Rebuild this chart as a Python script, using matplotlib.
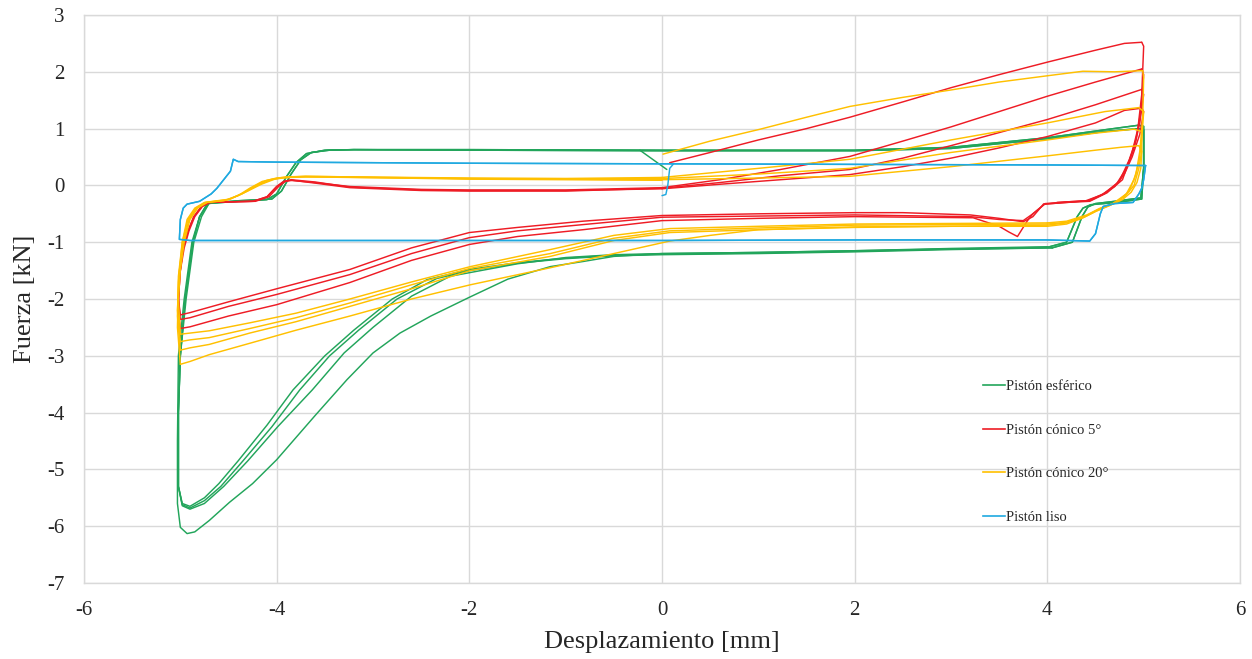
import matplotlib
matplotlib.use("Agg")
import matplotlib.pyplot as plt
from matplotlib.lines import Line2D

plt.rcParams['font.family'] = ['Liberation Serif', 'DejaVu Serif']

# ---------------- data ----------------
x_ticks = [-6, -4, -2, 0, 2, 4, 6]
y_ticks = [-7, -6, -5, -4, -3, -2, -1, 0, 1, 2, 3]
labels = ['Pistón esférico', 'Pistón cónico 5°', 'Pistón cónico 20°', 'Pistón liso']
colors = ['#22A55B', '#EE1C25', '#FFC000', '#1FA9E0']

# --- Pistón esférico (green) ---
esf_inicio = [(0.05, 0.28), (-0.23, 0.62)]
esf_superior_a = [(-4.72, -0.32), (-4.4, -0.28), (-4.1, -0.25), (-4.0, -0.15), (-3.9, 0.15),
                  (-3.8, 0.4), (-3.69, 0.56), (-3.5, 0.62), (-3.2, 0.63), (-2.0, 0.63),
                  (0.0, 0.62), (2.0, 0.62), (3.0, 0.67), (4.0, 0.84), (4.6, 0.98), (4.95, 1.06),
                  (5.0, 1.04), (5.0, 0.3), (4.98, -0.24), (4.72, -0.3), (4.45, -0.34),
                  (4.37, -0.4), (4.31, -0.55), (4.2, -1.0), (4.0, -1.09)]
esf_superior_b = [(-4.7, -0.31), (-4.4, -0.27), (-4.05, -0.24), (-3.95, -0.1), (-3.85, 0.2),
                  (-3.75, 0.45), (-3.64, 0.58), (-3.45, 0.62), (-3.2, 0.63), (-2.0, 0.62),
                  (0.0, 0.61), (2.0, 0.61), (3.0, 0.65), (4.0, 0.82), (4.6, 0.95), (4.95, 1.0),
                  (5.0, 0.98), (5.0, 0.3), (4.97, -0.22), (4.7, -0.28), (4.5, -0.32),
                  (4.42, -0.38), (4.36, -0.55), (4.26, -1.0), (4.05, -1.1)]
esf_inferior_a = [(4.0, -1.09), (3.0, -1.12), (2.0, -1.16), (1.0, -1.19), (0.0, -1.21),
                  (-0.5, -1.23), (-1.0, -1.28), (-1.5, -1.36), (-2.0, -1.48), (-2.44, -1.66),
                  (-2.8, -2.0), (-3.2, -2.55), (-3.5, -3.0), (-3.83, -3.6), (-4.1, -4.22),
                  (-4.4, -4.85), (-4.6, -5.25), (-4.75, -5.5), (-4.9, -5.65), (-4.98, -5.6),
                  (-5.02, -5.3), (-5.02, -4.0), (-5.0, -3.0), (-4.95, -2.0), (-4.87, -1.0),
                  (-4.8, -0.55), (-4.72, -0.32)]
esf_inferior_b = [(4.05, -1.1), (3.0, -1.13), (2.0, -1.17), (1.0, -1.2), (0.0, -1.22),
                  (-0.5, -1.24), (-1.0, -1.29), (-1.5, -1.37), (-2.0, -1.5), (-2.34, -1.64),
                  (-2.75, -2.0), (-3.15, -2.55), (-3.45, -3.0), (-3.76, -3.6), (-4.05, -4.25),
                  (-4.35, -4.85), (-4.58, -5.3), (-4.75, -5.55), (-4.9, -5.68), (-4.98, -5.62),
                  (-5.02, -5.3), (-5.02, -4.0), (-5.0, -3.0), (-4.94, -2.0), (-4.86, -1.0),
                  (-4.78, -0.55), (-4.7, -0.31)]
esf_inferior_c = [(4.0, -1.08), (3.0, -1.11), (2.0, -1.15), (1.0, -1.18), (0.0, -1.2),
                  (-0.5, -1.22), (-1.0, -1.27), (-1.5, -1.38), (-2.2, -1.6), (-2.6, -1.95),
                  (-3.0, -2.5), (-3.3, -2.95), (-3.63, -3.6), (-3.99, -4.25), (-4.3, -4.85),
                  (-4.55, -5.3), (-4.75, -5.6), (-4.9, -5.7), (-4.98, -5.64), (-5.02, -5.3),
                  (-5.02, -4.0), (-5.0, -3.0), (-4.95, -2.0), (-4.87, -1.0), (-4.8, -0.55),
                  (-4.72, -0.32)]
esf_inferior_d = [(4.05, -1.1), (3.0, -1.12), (2.0, -1.15), (1.0, -1.18), (0.0, -1.2),
                  (-0.5, -1.25), (-0.82, -1.34), (-1.16, -1.43), (-1.6, -1.65), (-2.0, -1.97),
                  (-2.4, -2.3), (-2.72, -2.6), (-3.0, -2.95), (-3.27, -3.42), (-3.6, -4.05),
                  (-4.0, -4.83), (-4.25, -5.25), (-4.49, -5.58), (-4.7, -5.9), (-4.85, -6.1),
                  (-4.93, -6.13), (-5.0, -6.02), (-5.03, -5.6), (-5.03, -4.5), (-5.02, -3.0),
                  (-4.96, -2.0), (-4.88, -1.0), (-4.8, -0.55), (-4.7, -0.31)]
esferico = [esf_inicio, esf_superior_a, esf_superior_b, esf_superior_a, esf_superior_b,
            esf_inferior_a, esf_inferior_b, esf_inferior_c, esf_inferior_d]

# --- Pistón cónico 5° (red) ---
c5_subida_1 = [(0.08, 0.4), (0.5, 0.58), (1.0, 0.8), (1.5, 1.0), (1.95, 1.2), (2.5, 1.47),
               (3.0, 1.72), (3.5, 1.95), (4.0, 2.17), (4.5, 2.38), (4.8, 2.5), (4.98, 2.52)]
c5_subida_2 = [(0.0, -0.04), (0.6, 0.1), (1.23, 0.28), (1.95, 0.51), (2.5, 0.78), (3.0, 1.03),
               (3.5, 1.3), (4.0, 1.57), (4.5, 1.82), (4.98, 2.05)]
c5_subida_3 = [(0.0, -0.05), (0.6, 0.05), (1.23, 0.17), (1.95, 0.28), (2.5, 0.48), (3.0, 0.7),
               (3.5, 0.93), (4.0, 1.16), (4.5, 1.42), (4.98, 1.69)]
c5_subida_4 = [(0.0, -0.06), (0.6, 0.02), (1.23, 0.1), (1.95, 0.19), (2.5, 0.33), (3.0, 0.48),
               (3.5, 0.66), (4.0, 0.86), (4.5, 1.1), (4.8, 1.32), (4.98, 1.36)]
c5_bajada_1 = [(4.98, 2.52), (5.0, 2.45), (4.98, 1.6), (4.94, 1.0), (4.88, 0.58), (4.78, 0.1),
               (4.62, -0.13), (4.44, -0.28), (4.2, -0.3), (3.96, -0.33)]
c5_bajada_2 = [(4.98, 2.05), (5.0, 1.95), (4.97, 1.3), (4.92, 0.8), (4.85, 0.45), (4.75, 0.08),
               (4.6, -0.14), (4.44, -0.27), (4.2, -0.29), (3.98, -0.32)]
c5_bajada_3 = [(4.98, 1.69), (5.0, 1.6), (4.96, 1.1), (4.9, 0.65), (4.82, 0.3), (4.72, 0.03),
               (4.58, -0.15), (4.42, -0.27), (4.2, -0.3), (3.97, -0.33)]
c5_bajada_4 = [(4.98, 1.36), (5.0, 1.3), (4.96, 0.9), (4.88, 0.5), (4.8, 0.2), (4.7, -0.02),
               (4.56, -0.17), (4.4, -0.27), (4.1, -0.3)]
c5_inferior_1 = [(3.96, -0.33), (3.85, -0.55), (3.75, -0.64), (3.5, -0.58), (3.2, -0.52),
                 (2.5, -0.48), (2.0, -0.48), (1.0, -0.5), (0.0, -0.53), (-0.82, -0.63),
                 (-1.5, -0.74), (-2.0, -0.83), (-2.6, -1.1), (-3.24, -1.48), (-4.0, -1.82),
                 (-4.5, -2.05), (-4.9, -2.24), (-5.0, -2.28)]
c5_inferior_2 = [(3.98, -0.32), (3.85, -0.5), (3.75, -0.62), (3.5, -0.6), (3.2, -0.55),
                 (2.0, -0.52), (1.0, -0.54), (0.0, -0.56), (-0.82, -0.69), (-1.5, -0.8),
                 (-2.0, -0.92), (-2.6, -1.2), (-3.24, -1.57), (-4.0, -1.92), (-4.5, -2.13),
                 (-4.9, -2.33), (-5.0, -2.36)]
c5_inferior_3 = [(3.97, -0.33), (3.85, -0.5), (3.79, -0.63), (3.69, -0.9), (3.6, -0.82),
                 (3.5, -0.72), (3.23, -0.57), (2.0, -0.55), (1.0, -0.58), (0.0, -0.62),
                 (-0.82, -0.78), (-1.5, -0.9), (-2.0, -1.04), (-2.6, -1.32), (-3.24, -1.71),
                 (-4.0, -2.1), (-4.5, -2.3), (-4.9, -2.49), (-5.0, -2.52)]
c5_retorno_1 = [(-5.0, -2.28), (-5.02, -2.0), (-5.0, -1.5), (-4.97, -1.1), (-4.92, -0.8),
                (-4.86, -0.55), (-4.78, -0.37), (-4.7, -0.3), (-4.5, -0.29), (-4.25, -0.28),
                (-4.1, -0.2), (-4.0, -0.02), (-3.93, 0.07), (-3.86, 0.09), (-3.6, 0.05),
                (-3.24, -0.02), (-2.5, -0.07), (-2.0, -0.08), (-1.0, -0.08), (0.0, -0.04)]
c5_retorno_2 = [(-5.0, -2.36), (-5.02, -2.0), (-5.0, -1.5), (-4.96, -1.1), (-4.91, -0.8),
                (-4.85, -0.55), (-4.77, -0.37), (-4.69, -0.3), (-4.5, -0.29), (-4.22, -0.28),
                (-4.08, -0.2), (-3.98, -0.02), (-3.91, 0.07), (-3.84, 0.09), (-3.6, 0.04),
                (-3.24, -0.04), (-2.5, -0.09), (-2.0, -0.1), (-1.0, -0.1), (0.0, -0.05)]
c5_retorno_3 = [(-5.0, -2.52), (-5.02, -2.2), (-5.01, -1.6), (-4.97, -1.1), (-4.92, -0.8),
                (-4.86, -0.55), (-4.78, -0.37), (-4.7, -0.3), (-4.5, -0.29), (-4.24, -0.28),
                (-4.1, -0.2), (-4.0, -0.02), (-3.92, 0.07), (-3.85, 0.1), (-3.6, 0.06),
                (-3.24, -0.03), (-2.5, -0.08), (-2.0, -0.09), (-1.0, -0.09), (0.0, -0.06)]
conico5 = [c5_subida_1, c5_bajada_1, c5_inferior_1, c5_retorno_1,
           c5_subida_2, c5_bajada_2, c5_inferior_2, c5_retorno_2,
           c5_subida_3, c5_bajada_3, c5_inferior_3, c5_retorno_3,
           c5_subida_4, c5_bajada_4]

# --- Pistón cónico 20° (yellow) ---
c20_subida_1 = [(0.01, 0.55), (0.5, 0.78), (1.02, 0.99), (1.5, 1.2), (1.95, 1.39), (2.5, 1.55),
                (3.0, 1.68), (3.5, 1.82), (4.0, 1.93), (4.37, 2.01), (4.7, 2.0), (4.99, 2.02)]
c20_subida_2 = [(0.0, 0.14), (1.0, 0.3), (1.95, 0.46), (3.0, 0.8), (4.0, 1.1), (4.6, 1.3),
                (4.95, 1.37)]
c20_subida_3 = [(0.0, 0.12), (1.0, 0.2), (1.95, 0.3), (3.0, 0.58), (4.0, 0.8), (4.5, 0.92),
                (4.9, 0.99)]
c20_subida_4 = [(0.0, 0.1), (1.0, 0.13), (1.95, 0.16), (3.0, 0.33), (4.0, 0.52), (4.5, 0.62),
                (4.76, 0.67), (4.95, 0.7)]
c20_bajada_1 = [(4.99, 2.02), (5.0, 1.9), (4.99, 1.2), (4.96, 0.6), (4.92, 0.2), (4.85, -0.1),
                (4.72, -0.3), (4.55, -0.4), (4.41, -0.52), (4.2, -0.63), (4.0, -0.66)]
c20_bajada_2 = [(4.95, 1.37), (5.0, 1.3), (4.98, 0.8), (4.95, 0.4), (4.9, 0.1), (4.82, -0.15),
                (4.68, -0.32), (4.53, -0.42), (4.4, -0.54), (4.2, -0.65), (4.0, -0.68)]
c20_bajada_3 = [(4.9, 0.99), (4.98, 0.95), (4.98, 0.6), (4.95, 0.3), (4.9, 0.0), (4.8, -0.2),
                (4.66, -0.34), (4.52, -0.44), (4.38, -0.56), (4.2, -0.66), (4.0, -0.7)]
c20_bajada_4 = [(4.95, 0.7), (4.98, 0.6), (4.97, 0.3), (4.93, 0.05), (4.87, -0.12), (4.78, -0.25),
                (4.64, -0.36), (4.5, -0.46), (4.36, -0.58), (4.2, -0.68), (4.0, -0.72)]
c20_inferior_1 = [(4.0, -0.66), (3.0, -0.67), (2.0, -0.68), (1.0, -0.72), (0.08, -0.76),
                  (-0.5, -0.88), (-1.16, -1.13), (-1.99, -1.43), (-2.6, -1.7), (-3.24, -2.0),
                  (-3.8, -2.25), (-4.28, -2.42), (-4.7, -2.56), (-4.9, -2.6), (-5.0, -2.62)]
c20_inferior_2 = [(4.0, -0.68), (3.0, -0.69), (2.0, -0.7), (1.0, -0.75), (0.08, -0.8),
                  (-0.5, -0.93), (-1.16, -1.2), (-1.99, -1.46), (-2.6, -1.75), (-3.24, -2.07),
                  (-3.8, -2.33), (-4.28, -2.52), (-4.7, -2.68), (-4.9, -2.72), (-5.0, -2.75)]
c20_inferior_3 = [(4.0, -0.7), (3.0, -0.72), (2.0, -0.74), (1.0, -0.78), (0.08, -0.83),
                  (-0.5, -0.97), (-1.16, -1.25), (-1.99, -1.5), (-2.6, -1.82), (-3.24, -2.13),
                  (-3.8, -2.4), (-4.28, -2.6), (-4.7, -2.8), (-4.9, -2.86), (-5.0, -2.9)]
c20_inferior_4 = [(4.0, -0.72), (3.0, -0.72), (2.0, -0.73), (1.0, -0.78), (0.5, -0.88),
                  (0.08, -0.98), (-0.5, -1.2), (-1.16, -1.45), (-1.99, -1.75), (-2.6, -2.0),
                  (-3.24, -2.3), (-3.8, -2.55), (-4.28, -2.78), (-4.7, -2.98), (-4.9, -3.1),
                  (-5.0, -3.15)]
c20_retorno_1 = [(-5.0, -2.62), (-5.02, -2.0), (-5.0, -1.5), (-4.96, -1.0), (-4.9, -0.6),
                 (-4.82, -0.4), (-4.72, -0.3), (-4.55, -0.27), (-4.4, -0.18), (-4.28, -0.05),
                 (-4.15, 0.07), (-4.0, 0.13), (-3.7, 0.15), (-3.24, 0.14), (-2.0, 0.12),
                 (-1.0, 0.12), (0.0, 0.14)]
c20_retorno_2 = [(-5.0, -2.75), (-5.03, -2.2), (-5.01, -1.5), (-4.97, -1.0), (-4.91, -0.6),
                 (-4.83, -0.4), (-4.73, -0.3), (-4.52, -0.26), (-4.36, -0.15), (-4.24, -0.02),
                 (-4.1, 0.09), (-3.95, 0.14), (-3.7, 0.16), (-3.24, 0.15), (-2.0, 0.13),
                 (-1.0, 0.12), (0.0, 0.12)]
c20_retorno_3 = [(-5.0, -2.9), (-5.03, -2.3), (-5.02, -1.6), (-4.98, -1.0), (-4.92, -0.6),
                 (-4.84, -0.4), (-4.74, -0.3), (-4.5, -0.25), (-4.33, -0.12), (-4.2, 0.0),
                 (-4.06, 0.1), (-3.9, 0.15), (-3.7, 0.16), (-3.24, 0.15), (-2.0, 0.12),
                 (-1.0, 0.11), (0.0, 0.1)]
c20_retorno_4 = [(-5.0, -3.15), (-5.03, -2.5), (-5.02, -1.7), (-4.98, -1.0), (-4.93, -0.6),
                 (-4.85, -0.4), (-4.75, -0.3), (-4.48, -0.24), (-4.3, -0.1), (-4.16, 0.02),
                 (-4.02, 0.11), (-3.85, 0.15), (-3.5, 0.15), (-2.0, 0.11), (-1.0, 0.1),
                 (0.0, 0.09)]
conico20 = [c20_subida_1, c20_bajada_1, c20_inferior_1, c20_retorno_1,
            c20_subida_2, c20_bajada_2, c20_inferior_2, c20_retorno_2,
            c20_subida_3, c20_bajada_3, c20_inferior_3, c20_retorno_3,
            c20_subida_4, c20_bajada_4, c20_inferior_4, c20_retorno_4]

# --- Pistón liso (blue) ---
liso_inicio = [(0.0, -0.18), (0.04, -0.16), (0.06, 0.0), (0.08, 0.3), (0.12, 0.38)]
liso_ciclo = [(5.02, 0.35), (4.0, 0.36), (2.0, 0.37), (0.0, 0.38), (-2.0, 0.39), (-4.0, 0.41),
              (-4.4, 0.42), (-4.45, 0.46), (-4.48, 0.25), (-4.55, 0.1), (-4.62, -0.05),
              (-4.68, -0.15), (-4.8, -0.28), (-4.93, -0.33), (-4.97, -0.4), (-5.0, -0.6),
              (-5.01, -0.95), (-4.9, -0.97), (-3.0, -0.97), (-1.0, -0.97), (0.0, -0.97),
              (2.0, -0.96), (4.0, -0.96), (4.44, -0.98), (4.5, -0.85), (4.55, -0.5),
              (4.58, -0.37), (4.7, -0.32), (4.89, -0.3), (4.95, -0.15), (4.98, -0.05),
              (5.0, 0.1), (5.02, 0.35)]
liso = [liso_inicio, liso_ciclo, liso_ciclo]

series = [esferico, conico5, conico20, liso]

# ---------------- figure ----------------
fig = plt.figure(figsize=(12.52, 6.59), dpi=100)
ax = fig.add_axes([84 / 1252, 1 - 583 / 659, (1240 - 84) / 1252, (583 - 15) / 659])

for segs, col in zip(series, colors):
    for seg in segs:
        xs = [p[0] for p in seg]
        ys = [p[1] for p in seg]
        ax.plot(xs, ys, color=col, lw=1.05, solid_joinstyle='round', solid_capstyle='round')

ax.set_xlim(-6, 6)
ax.set_ylim(-7, 3)
ax.set_xticks(x_ticks)
ax.set_yticks(y_ticks)
ax.set_xticklabels([str(v) for v in x_ticks])
ax.set_yticklabels([str(v) for v in y_ticks])
ax.grid(True, color='#D9D9D9', lw=1.0)
ax.set_axisbelow(True)
for s in ax.spines.values():
    s.set_color('#D9D9D9')
    s.set_linewidth(1.0)
ax.tick_params(axis='both', length=0, labelsize=15, colors='#262626')
ax.tick_params(axis='x', pad=13)
ax.tick_params(axis='y', pad=14)

ax.set_xlabel('Desplazamiento [mm]', fontsize=19, color='#262626', labelpad=8)
ax.set_ylabel('Fuerza [kN]', fontsize=19, color='#262626', labelpad=8)

handles = [Line2D([0], [0], color=c, lw=1.2) for c in colors]
leg = ax.legend(handles, labels, loc='upper left', bbox_to_anchor=(0.778, 0.357),
                frameon=False, fontsize=10.5, labelspacing=2.07, handlelength=1.45,
                handletextpad=0.1, borderpad=0, borderaxespad=0)
for t in leg.get_texts():
    t.set_color('#262626')

fig.savefig('out.png', dpi=100)
